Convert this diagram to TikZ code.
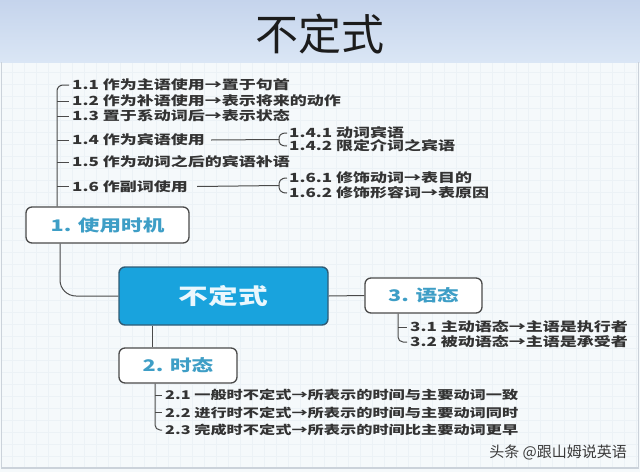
\documentclass[tikz,border=0pt]{standalone}
\usepackage{fontspec}
\newfontfamily\cjk{Noto Sans CJK SC}
\newfontfamily\cjkx[FakeStretch=1.35]{Noto Sans CJK SC}
\definecolor{itemc}{HTML}{333333}
\definecolor{labc}{HTML}{3E9EC6}
\definecolor{mainfill}{HTML}{19A3DD}
\definecolor{mainedge}{HTML}{2F5B75}
\definecolor{maintext}{HTML}{EAF7FD}
\definecolor{linec}{HTML}{4A4A4A}
\definecolor{bgc}{HTML}{F5F9FB}
\definecolor{gridc}{HTML}{ECF2F6}
\definecolor{bannertop}{HTML}{C5D4EC}
\definecolor{bannerbot}{HTML}{DAE6F5}
\definecolor{framec}{HTML}{CBD2DA}
\definecolor{titlec}{HTML}{1C1C1C}
\definecolor{wmc}{HTML}{3A3A3A}
\begin{document}
\begin{tikzpicture}[x=1pt,y=-1pt,
  item/.style={anchor=west, inner sep=0pt, text=itemc, font=\cjkx\bfseries\fontsize{12.6}{14}\selectfont},
  itemsm/.style={item, font=\cjkx\bfseries\fontsize{12}{14}\selectfont},
  subbox/.style={draw=linec, line width=1.3pt, fill=white, rounded corners=6pt, inner sep=0pt, text=labc, font=\cjkx\bfseries\fontsize{16}{18}\selectfont},
  mainbox/.style={draw=mainedge, line width=1.4pt, fill=mainfill, rounded corners=6pt, inner sep=0pt, text=maintext, font=\cjkx\bfseries\fontsize{22}{24}\selectfont},
  conn/.style={draw=linec, line width=1pt}]
\useasboundingbox (0,0) rectangle (640,472);
% background
\fill[bgc] (0,62) rectangle (640,472);
\draw[gridc, line width=0.3pt, step=12pt] (2,63) grid (638,468);
\shade[top color=bannertop, bottom color=bannerbot] (0,0) rectangle (640,62);
\draw[framec, line width=1.2pt] (1.5,62) -- (1.5,468) -- (638.5,468) -- (638.5,62);
% title
\node[font=\cjk\fontsize{43}{45}\selectfont, text=titlec] (title) at (320,34) {不定式};
% boxes
\node[subbox, minimum width=163pt, minimum height=36pt] (b1) at (107.5,225) {1. 使用时机};
\node[mainbox, minimum width=209pt, minimum height=58pt] (main) at (223.5,296) {不定式};
\node[subbox, minimum width=117pt, minimum height=35pt] (b3) at (423.5,295.5) {3. 语态};
\node[subbox, minimum width=118pt, minimum height=35pt] (b2) at (178,365.5) {2. 时态};
% section 1 items
\node[item] (i11) at (72,85) {1.1 作为主语使用→置于句首};
\node[item] (i12) at (72,101) {1.2 作为补语使用→表示将来的动作};
\node[item] (i13) at (72,116) {1.3 置于系动词后→表示状态};
\node[item] (i14) at (72,140) {1.4 作为宾语使用};
\node[item] (i15) at (72,162) {1.5 作为动词之后的宾语补语};
\node[item] (i16) at (72,186.5) {1.6 作副词使用};
\node[item] (i141) at (289,133) {1.4.1 动词宾语};
\node[item] (i142) at (289,146) {1.4.2 限定介词之宾语};
\node[item] (i161) at (289,178) {1.6.1 修饰动词→表目的};
\node[item] (i162) at (289,193) {1.6.2 修饰形容词→表原因};
% section 3 items
\node[item] (i31) at (410,327) {3.1 主动语态→主语是执行者};
\node[item] (i32) at (410,342) {3.2 被动语态→主语是承受者};
% section 2 items
\node[itemsm] (i21) at (165,395) {2.1 一般时不定式→所表示的时间与主要动词一致};
\node[itemsm] (i22) at (165,412.5) {2.2 进行时不定式→所表示的时间与主要动词同时};
\node[itemsm] (i23) at (165,430) {2.3 完成时不定式→所表示的时间比主要动词更早};
% watermark
\node[anchor=east, inner sep=0pt, font=\cjk\fontsize{15}{16}\selectfont, text=wmc] (wm) at (627,452) {头条 @跟山姆说英语};
% connectors section 1
\coordinate (sp1) at ([xshift=-50.5pt]b1.north);
\draw[conn, rounded corners=6pt] (sp1) |- ([xshift=-3pt]i11.west);
\foreach \n in {i12,i13,i14,i15,i16}
  \draw[conn] (sp1 |- \n.west) -- ([xshift=-3pt]\n.west);
\coordinate (br14) at (279,139.5);
\coordinate (br16) at (279,185.5);
\draw[conn] ([xshift=6pt]i14.east) -- (br14);
\draw[conn] ([xshift=9pt]i16.east) -- (br16);
\draw[conn] ([xshift=-2pt]i141.west) .. controls +(-7,0) and +(0,-4) .. (br14) .. controls +(0,4) and +(-7,0) .. ([xshift=-2pt]i142.west);
\draw[conn] ([xshift=-2pt]i161.west) .. controls +(-7,0) and +(0,-4) .. (br16) .. controls +(0,4) and +(-7,0) .. ([xshift=-2pt]i162.west);
\draw[conn, rounded corners=16pt] ([xshift=-47.5pt]b1.south) |- (main.west);
% main to 3
\draw[conn] (main.east) -- (b3.west);
\coordinate (sp3) at ([xshift=-25.5pt]b3.south);
\draw[conn, rounded corners=5pt] (sp3) |- ([xshift=-3pt]i32.west);
\draw[conn] (sp3 |- i31.west) -- ([xshift=-3pt]i31.west);
% main to 2
\coordinate (c2) at ([xshift=-26pt]b2.north);
\draw[conn] (c2 |- main.south) -- (c2);
\coordinate (sp2) at ([xshift=-23pt]b2.south);
\draw[conn, rounded corners=5pt] (sp2) |- ([xshift=-3pt]i23.west);
\foreach \n in {i21,i22}
  \draw[conn] (sp2 |- \n.west) -- ([xshift=-3pt]\n.west);
\end{tikzpicture}
\end{document}
